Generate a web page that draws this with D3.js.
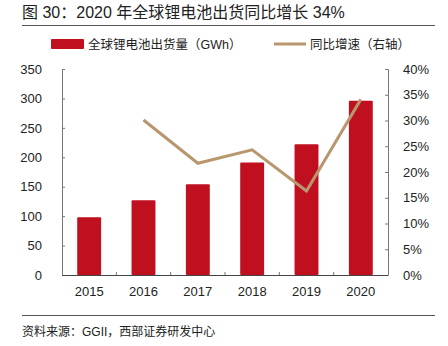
<!DOCTYPE html>
<html>
<head>
<meta charset="utf-8">
<script src="https://cdn.jsdelivr.net/npm/d3@7"></script>
<style>
  body { margin: 0; background: #fff; }
  svg text { font-family: "Liberation Sans", "Noto Sans CJK SC", sans-serif; fill: #222; }
</style>
</head>
<body>
<svg id="chart" width="448" height="346"></svg>
<script>
// data
var years = ["2015", "2016", "2017", "2018", "2019", "2020"];
var shipments = [98, 127, 154, 191, 222, 296];          // GWh
var growth = [null, 30.1, 21.7, 24.3, 16.3, 34.1];      // %
var leftTicks = [0, 50, 100, 150, 200, 250, 300, 350];
var rightTicks = [0, 5, 10, 15, 20, 25, 30, 35, 40];

var svg = d3.select('#chart');

// title + rule
svg.append('text')
   .attr('x', 22).attr('y', 18)
   .style('font-size', '16px')
   .text('图 30：2020 年全球锂电池出货同比增长 34%');

svg.append('line')
   .attr('x1', 22).attr('x2', 435).attr('y1', 25.5).attr('y2', 25.5)
   .attr('stroke', '#555').attr('stroke-width', 1);

// legend
svg.append('rect')
   .attr('x', 51).attr('y', 39).attr('width', 33).attr('height', 10).attr('rx', 1)
   .attr('fill', '#c00f1f');
svg.append('text')
   .attr('x', 88).attr('y', 48.5)
   .style('font-size', '12.5px')
   .text('全球锂电池出货量（GWh）');

svg.append('line')
   .attr('x1', 274).attr('x2', 306).attr('y1', 44).attr('y2', 44)
   .attr('stroke', '#b8976f').attr('stroke-width', 3);
svg.append('text')
   .attr('x', 310).attr('y', 48.5)
   .style('font-size', '12.5px')
   .text('同比增速（右轴）');

// scales
var x = d3.scaleBand().domain(years).range([62, 388]).paddingInner(0.56).paddingOuter(0.28);
var yL = d3.scaleLinear().domain([0, 350]).range([275, 69]);
var yR = d3.scaleLinear().domain([0, 40]).range([275, 69]);

// bars
svg.append('g').selectAll('rect')
   .data(years)
   .enter().append('rect')
   .attr('x', function(d) { return x(d); })
   .attr('width', x.bandwidth())
   .attr('y', function(d, i) { return yL(shipments[i]); })
   .attr('height', function(d, i) { return yL(0) - yL(shipments[i]); })
   .attr('rx', 1)
   .attr('fill', '#c00f1f');

// axes
var axisColor = '#777';

var left = svg.append('g')
   .attr('transform', 'translate(62,0)')
   .call(d3.axisLeft(yL).tickValues(leftTicks).tickSize(-3).tickPadding(20));
var right = svg.append('g')
   .attr('transform', 'translate(388,0)')
   .call(d3.axisRight(yR).tickValues(rightTicks).tickSize(-3).tickPadding(15)
         .tickFormat(function(d) { return d + '%'; }));

var bottom = svg.append('g')
   .attr('transform', 'translate(0,275)');
bottom.append('line')
   .attr('x1', 62).attr('x2', 388).attr('y1', 0.5).attr('y2', 0.5)
   .attr('stroke', '#444');
bottom.selectAll('line.tick')
   .data(years.slice(1))
   .enter().append('line')
   .attr('class', 'tick')
   .attr('x1', function(d) { return x(d) - x.step() * x.paddingInner() / 2; })
   .attr('x2', function(d) { return x(d) - x.step() * x.paddingInner() / 2; })
   .attr('y1', 0).attr('y2', -3)
   .attr('stroke', axisColor);
bottom.selectAll('text')
   .data(years)
   .enter().append('text')
   .attr('x', function(d) { return x(d) + x.bandwidth() / 2; })
   .attr('y', 21)
   .attr('text-anchor', 'middle')
   .style('font-size', '13px')
   .text(function(d) { return d; });

[left, right].forEach(function(g) {
   g.select('.domain').attr('stroke', axisColor);
   g.selectAll('.tick line').attr('stroke', axisColor);
   g.selectAll('.tick text').style('font-size', '13px').attr('fill', '#222')
    .style('font-family', '"Liberation Sans", sans-serif');
});
left.selectAll('.tick text').attr('text-anchor', 'end');
right.selectAll('.tick text').attr('text-anchor', 'start');

// growth line
var pts = years.map(function(d, i) { return { year: d, v: growth[i] }; })
               .filter(function(p) { return p.v != null; });
svg.append('path')
   .datum(pts)
   .attr('fill', 'none')
   .attr('stroke', '#b8976f')
   .attr('stroke-width', 3)
   .attr('d', d3.line()
      .x(function(p) { return x(p.year) + x.bandwidth() / 2; })
      .y(function(p) { return yR(p.v); }));

// source
svg.append('line')
   .attr('x1', 22).attr('x2', 435).attr('y1', 315.5).attr('y2', 315.5)
   .attr('stroke', '#555').attr('stroke-width', 1);
svg.append('text')
   .attr('x', 22).attr('y', 336)
   .style('font-size', '12px')
   .text('资料来源：GGII，西部证券研发中心');
</script>
</body>
</html>
